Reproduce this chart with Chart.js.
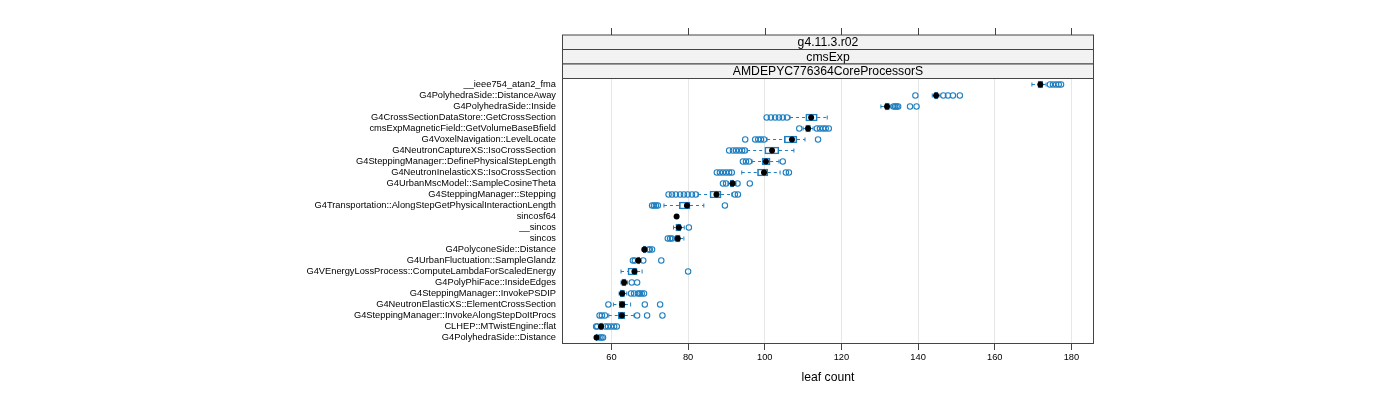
<!DOCTYPE html>
<html>
<head>
<meta charset="utf-8">
<script src="https://cdn.jsdelivr.net/npm/chart.js@4.4.1/dist/chart.umd.min.js"></script>
<style>
  html, body { margin: 0; padding: 0; background: #fff; }
  #wrap { width: 1400px; height: 400px; }
</style>
</head>
<body>
<div id="wrap"><canvas id="chart"></canvas></div>
<script>
// functions, top to bottom
const categories = [
  '__ieee754_atan2_fma',
  'G4PolyhedraSide::DistanceAway',
  'G4PolyhedraSide::Inside',
  'G4CrossSectionDataStore::GetCrossSection',
  'cmsExpMagneticField::GetVolumeBaseBfield',
  'G4VoxelNavigation::LevelLocate',
  'G4NeutronCaptureXS::IsoCrossSection',
  'G4SteppingManager::DefinePhysicalStepLength',
  'G4NeutronInelasticXS::IsoCrossSection',
  'G4UrbanMscModel::SampleCosineTheta',
  'G4SteppingManager::Stepping',
  'G4Transportation::AlongStepGetPhysicalInteractionLength',
  'sincosf64',
  '__sincos',
  'sincos',
  'G4PolyconeSide::Distance',
  'G4UrbanFluctuation::SampleGlandz',
  'G4VEnergyLossProcess::ComputeLambdaForScaledEnergy',
  'G4PolyPhiFace::InsideEdges',
  'G4SteppingManager::InvokePSDIP',
  'G4NeutronElasticXS::ElementCrossSection',
  'G4SteppingManager::InvokeAlongStepDoItProcs',
  'CLHEP::MTwistEngine::flat',
  'G4PolyhedraSide::Distance'
];

const lowWhisker  = [169.7, 143.7, 130.3, 106.6, 110.0, 100.6, 95.4, 96.7, 94.0, 90.4, 82.6, 73.7, 77.0, 76.2, 76.3, 68.0, 66.5, 62.5, 62.5, 62.0, 60.5, 59.3, 56.6, 55.8];
const lowerQuart  = [171.3, 144.3, 131.4, 110.7, 110.7, 105.1, 100.0, 99.3, 98.1, 91.0, 85.7, 77.7, 77.0, 76.8, 76.7, 68.3, 66.8, 64.3, 62.7, 62.3, 62.0, 61.8, 56.9, 55.96];
const medians     = [171.9, 144.7, 131.9, 112.1, 111.3, 107.1, 101.9, 100.3, 99.8, 91.6, 87.4, 79.7, 77.0, 77.6, 77.3, 68.6, 67.0, 66.0, 63.3, 62.8, 62.8, 62.7, 57.3, 56.1];
const upperQuart  = [172.5, 145.2, 132.5, 113.7, 111.9, 108.4, 103.7, 101.4, 100.8, 91.9, 88.6, 80.5, 77.0, 78.1, 77.9, 69.0, 67.4, 66.7, 63.8, 63.4, 63.5, 63.5, 57.7, 56.3];
const highWhisker = [173.4, 145.7, 132.9, 116.3, 112.6, 110.5, 107.6, 103.7, 104.0, 92.5, 91.4, 84.1, 77.0, 79.0, 78.9, 69.3, 67.7, 68.0, 64.2, 64.0, 65.0, 65.9, 58.0, 56.6];
const outliers = [
  [174.4, 175.2, 176.0, 176.7, 177.3],
  [139.3, 146.6, 147.8, 149.1, 150.9],
  [133.6, 134.0, 134.4, 134.8, 137.9, 139.6],
  [100.5, 101.6, 102.7, 103.7, 104.7, 105.8],
  [109.0, 113.6, 114.4, 115.2, 115.9, 116.7],
  [94.9, 97.5, 98.3, 99.0, 99.8, 113.9],
  [90.7, 91.7, 92.5, 93.3, 94.1, 94.8],
  [94.3, 95.1, 95.9, 104.7],
  [87.5, 88.3, 89.1, 89.9, 90.7, 91.4, 105.5, 106.3],
  [89.1, 89.9, 92.9, 96.1],
  [74.9, 75.8, 76.8, 77.9, 78.9, 79.9, 81.0, 82.0, 92.2, 93.0],
  [70.6, 71.1, 71.6, 72.1, 89.6],
  [],
  [80.2],
  [74.7, 75.3, 75.8],
  [69.7, 70.0, 70.6],
  [65.6, 66.1, 68.3, 73.0],
  [80.0],
  [65.3, 66.7],
  [65.1, 65.9, 66.9, 67.4, 67.9, 68.5],
  [59.2, 68.7, 72.7],
  [56.9, 57.5, 58.3, 66.7, 69.3, 73.3],
  [56.0, 56.3, 58.4, 59.1, 59.9, 60.7, 61.4],
  [56.9, 57.4, 57.8]
];

const xTicks = [60, 80, 100, 120, 140, 160, 180];
const stripLabels = ['g4.11.3.r02', 'cmsExp', 'AMDEPYC776364CoreProcessorS'];

const blue = '#1f7fc0';
const frameColor = '#444';
const fontFamily = "'Liberation Sans', Arial, sans-serif";

// build the datasets from the arrays above
const boxData = categories.map((c, i) => [lowerQuart[i], upperQuart[i]]);
const medianData = categories.map((c, i) => ({ x: medians[i], y: c }));
const capData = [];
const lowerLine = [];
const upperLine = [];
const outlierData = [];
categories.forEach((c, i) => {
  capData.push({ x: lowWhisker[i], y: c }, { x: highWhisker[i], y: c });
  lowerLine.push({ x: lowWhisker[i], y: c }, { x: lowerQuart[i], y: c }, { x: null, y: c });
  upperLine.push({ x: upperQuart[i], y: c }, { x: highWhisker[i], y: c }, { x: null, y: c });
  outliers[i].forEach(v => outlierData.push({ x: v, y: c }));
});

// strips, top axis ticks and the panel frame, as lattice draws them
const latticeFrame = {
  id: 'latticeFrame',
  afterDraw(chart) {
    const { ctx, chartArea: a, scales: { x } } = chart;
    const left = Math.round(a.left) + 0.5;
    const right = Math.round(a.right) - 0.5;
    const top = Math.round(a.top) - 0.5;
    const bottom = Math.round(a.bottom) + 0.5;
    const stripH = 14.5;
    ctx.save();
    ctx.lineWidth = 1;
    ctx.strokeStyle = frameColor;
    ctx.font = '12.2px ' + fontFamily;
    ctx.textAlign = 'center';
    ctx.textBaseline = 'middle';
    stripLabels.forEach((label, k) => {
      const y0 = top - stripH * (stripLabels.length - k);
      ctx.fillStyle = '#f2f2f2';
      ctx.fillRect(left, y0, right - left, stripH);
      ctx.strokeRect(left, y0, right - left, stripH);
      ctx.fillStyle = '#000';
      ctx.fillText(label, (left + right) / 2, y0 + stripH / 2 + 0.5);
    });
    ctx.strokeRect(left, top, right - left, bottom - top);
    const stripTop = top - stripH * stripLabels.length;
    ctx.beginPath();
    xTicks.forEach(v => {
      const px = Math.round(x.getPixelForValue(v)) + 0.5;
      ctx.moveTo(px, stripTop);
      ctx.lineTo(px, stripTop - 7);
    });
    ctx.stroke();
    ctx.restore();
  }
};

new Chart(document.getElementById('chart'), {
  type: 'bar',
  data: {
    labels: categories,
    datasets: [
      {
        type: 'scatter',
        label: 'median',
        data: medianData,
        pointStyle: 'circle',
        pointRadius: 3,
        backgroundColor: '#000',
        borderColor: '#000',
        borderWidth: 0,
        order: 0
      },
      {
        type: 'scatter',
        label: 'outliers',
        data: outlierData,
        pointStyle: 'circle',
        pointRadius: 2.7,
        backgroundColor: 'rgba(0,0,0,0)',
        borderColor: blue,
        borderWidth: 1.1,
        order: 1
      },
      {
        label: 'box',
        data: boxData,
        backgroundColor: 'rgba(0,0,0,0)',
        borderColor: blue,
        borderWidth: 1,
        borderSkipped: false,
        barThickness: 7,
        order: 2
      },
      {
        type: 'line',
        label: 'lower whisker',
        data: lowerLine,
        borderColor: blue,
        borderWidth: 1,
        borderDash: [3, 3],
        pointRadius: 0,
        spanGaps: false,
        fill: false,
        order: 3
      },
      {
        type: 'line',
        label: 'upper whisker',
        data: upperLine,
        borderColor: blue,
        borderWidth: 1,
        borderDash: [3, 3],
        pointRadius: 0,
        spanGaps: false,
        fill: false,
        order: 3
      },
      {
        type: 'scatter',
        label: 'caps',
        data: capData,
        pointStyle: 'line',
        rotation: 90,
        pointRadius: 2,
        borderColor: blue,
        borderWidth: 1,
        order: 3
      }
    ]
  },
  options: {
    indexAxis: 'y',
    responsive: true,
    maintainAspectRatio: false,
    animation: false,
    layout: {
      padding: { left: 0, right: 306, top: 79, bottom: 0 }
    },
    scales: {
      x: {
        type: 'linear',
        position: 'bottom',
        min: 47.1,
        max: 185.9,
        afterBuildTicks: (scale) => {
          scale.ticks = xTicks.map(v => ({ value: v }));
        },
        afterFit: (scale) => {
          scale.height = 57;
        },
        ticks: {
          color: '#000',
          padding: 2,
          maxRotation: 0,
          font: { family: fontFamily, size: 9.3 }
        },
        grid: {
          color: '#e6e6e6',
          tickColor: frameColor,
          tickLength: 7,
          drawOnChartArea: true
        },
        border: { display: false },
        title: {
          display: true,
          text: 'leaf count',
          color: '#000',
          font: { family: fontFamily, size: 12.2 },
          padding: { top: 4, bottom: 15 }
        }
      },
      y: {
        type: 'category',
        offset: true,
        afterFit: (scale) => {
          scale.width = 562;
        },
        ticks: {
          color: '#000',
          padding: 6,
          autoSkip: false,
          font: { family: fontFamily, size: 9.3 }
        },
        grid: { display: false, drawTicks: false },
        border: { display: false }
      }
    },
    plugins: {
      legend: { display: false },
      tooltip: { enabled: false }
    }
  },
  plugins: [latticeFrame]
});
</script>
</body>
</html>
